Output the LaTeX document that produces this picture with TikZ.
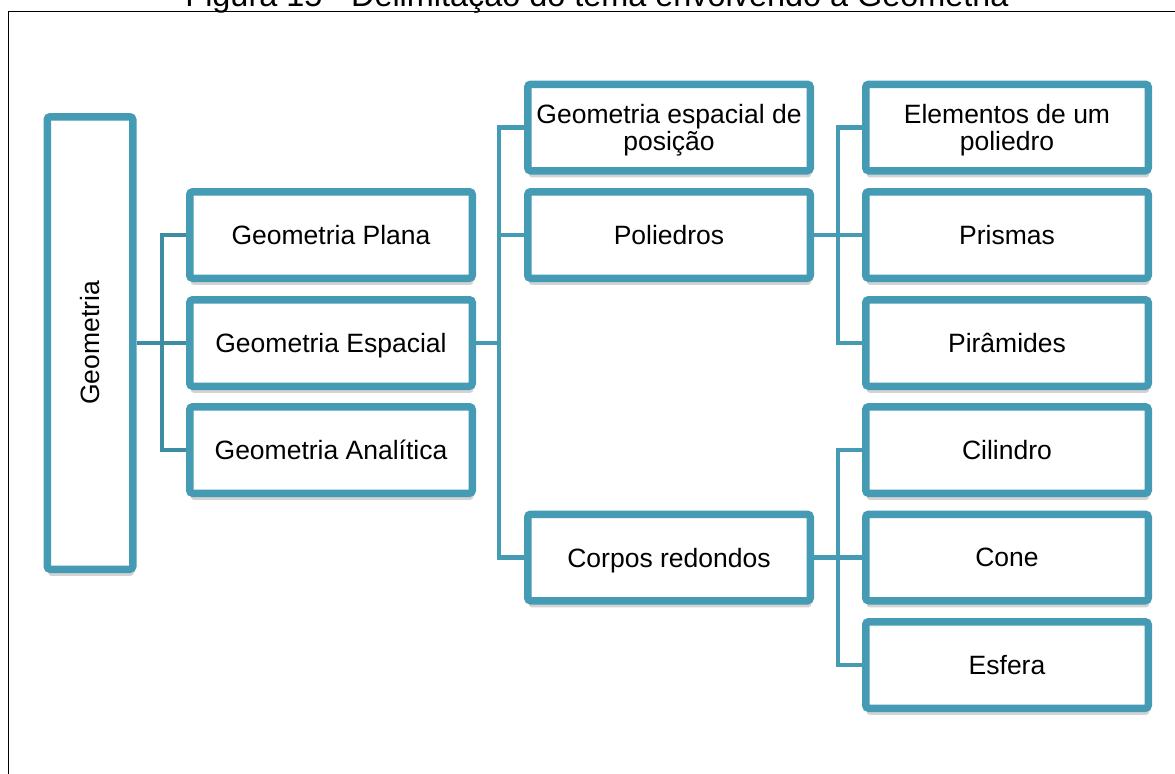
\documentclass[tikz,border=0pt]{standalone}
\usepackage{fontspec}
\setmainfont{Liberation Sans}
\usetikzlibrary{shadows,backgrounds}
\definecolor{boxline}{RGB}{69,155,180}
\definecolor{linkdark}{RGB}{60,140,163}

\begin{document}
\begin{tikzpicture}[x=0.5pt, y=-0.5pt,
  box/.style={draw=boxline, fill=white, line width=3.75pt, rounded corners=1.5pt,
    minimum width=141.25pt, minimum height=43.25pt, inner sep=0pt, align=center,
    text depth=0pt, font=\fontsize{13.25}{13.4}\selectfont,
    drop shadow={shadow xshift=0.5pt, shadow yshift=-3.3pt, opacity=0.35, fill=gray}},
  link/.style={draw=boxline, line width=2.25pt},
  linkA/.style={link, draw=linkdark}]
  \useasboundingbox (0,0) rectangle (1175,773);
  \clip (0,0) rectangle (1175,773);

  \node[anchor=base, font=\fontsize{16.2}{19}\selectfont] (title) at (597,6.5)
    {Figura 15 - Delimitação do tema envolvendo a Geometria};
  \draw[line width=0.65pt] (8.5,780) -- (8.5,11.7) -- (1180,11.7);

  \node[box, minimum width=42.75pt, minimum height=226.25pt] (geo) at (90,343) {};
  \node[rotate=90, font=\fontsize{13.25}{13.4}\selectfont] (geotxt) at (geo) {Geometria};

  \node[box] (plana) at (331,235) {Geometria Plana};
  \node[box] (esp) at (331,343) {Geometria Espacial};
  \node[box] (anal) at (331,450) {Geometria Analítica};

  \node[box] (pos) at (669,127.5) {Geometria espacial de\\posição};
  \node[box] (poli) at (669,235) {Poliedros};
  \node[box] (corpos) at (669,557.5) {Corpos redondos};

  \node[box] (elem) at (1007,127.5) {Elementos de um\\poliedro};
  \node[box] (prism) at (1007,235) {Prismas};
  \node[box] (pir) at (1007,343) {Pirâmides};
  \node[box] (cil) at (1007,450) {Cilindro};
  \node[box] (cone) at (1007,557.5) {Cone};
  \node[box] (esf) at (1007,665) {Esfera};

  \coordinate (b1) at (162,0);
  \coordinate (b2) at (499,0);
  \coordinate (b3) at (838,0);

  \begin{scope}[on background layer]
    \draw[linkA] (geo.east) -- (esp.west);
    \draw[linkA] (plana.west) -| (b1 |- anal.west) -- (anal.west);

    \draw[link] (esp.east) -- (b2 |- esp.east);
    \draw[link] (pos.west) -| (b2 |- corpos.west) -- (corpos.west);
    \draw[link] (poli.west) -- (b2 |- poli.west);

    \draw[link] (poli.east) -- (b3 |- poli.east);
    \draw[link] (elem.west) -| (b3 |- pir.west) -- (pir.west);
    \draw[link] (prism.west) -- (b3 |- prism.west);

    \draw[link] (corpos.east) -- (b3 |- corpos.east);
    \draw[link] (cil.west) -| (b3 |- esf.west) -- (esf.west);
    \draw[link] (cone.west) -- (b3 |- cone.west);
  \end{scope}
\end{tikzpicture}
\end{document}
